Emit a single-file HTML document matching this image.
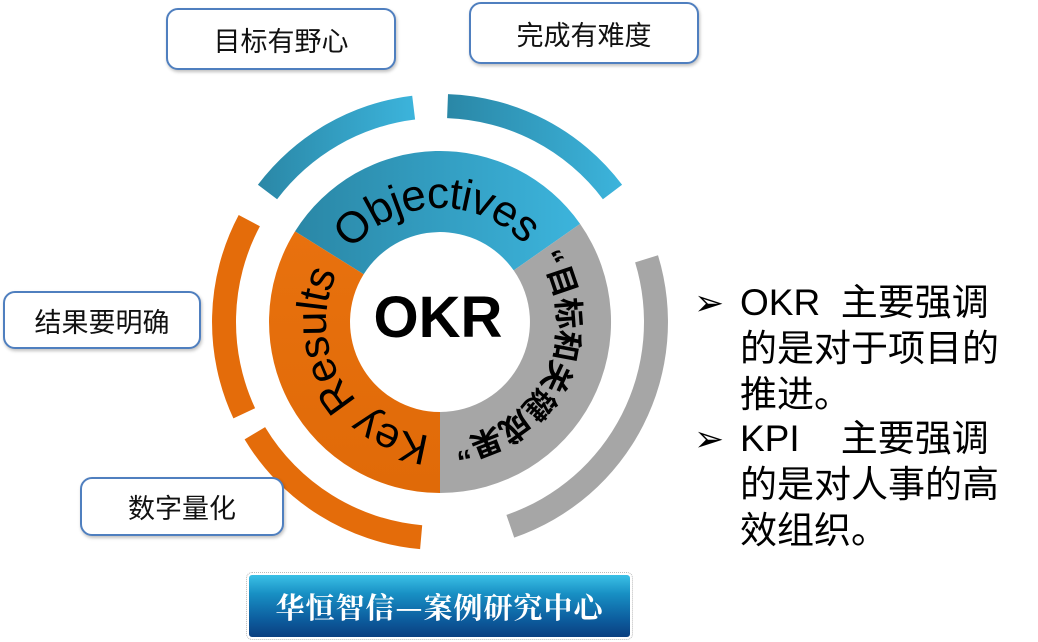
<!DOCTYPE html>
<html><head><meta charset="utf-8">
<style>
html,body{margin:0;padding:0;background:#fff;}
body{width:1038px;height:642px;position:relative;overflow:hidden;font-family:"Liberation Sans","Noto Sans CJK SC",sans-serif;}
.box{position:absolute;border:2.5px solid #4f7fbf;border-radius:12px;background:#fff;box-sizing:border-box;display:flex;align-items:center;justify-content:center;font-size:27px;color:#111;box-shadow:1px 2px 3px rgba(0,0,0,0.25);}
.rt{position:absolute;left:740px;font-size:37px;line-height:46px;color:#000;white-space:nowrap;}
.ar{position:absolute;left:694px;font-size:36px;line-height:46px;}
.banner{position:absolute;left:249px;top:575px;width:381px;height:62px;border-radius:3px;background:linear-gradient(#3bc0e6 0%,#1890c4 30%,#0d5fa0 70%,#0a3f80 100%);color:#fff;font-family:"Noto Serif CJK SC","Liberation Serif",serif;font-weight:bold;font-size:29px;display:flex;align-items:center;justify-content:center;letter-spacing:1px;outline:1px dotted #bbb;outline-offset:2px;}
</style></head><body>
<svg id="s" width="1038" height="642" style="position:absolute;left:0;top:0">
<defs>
<linearGradient id="gb" x1="0" y1="0" x2="1" y2="0"><stop offset="0" stop-color="#2a87a6"/><stop offset="1" stop-color="#3cb4dc"/></linearGradient>
<linearGradient id="go" x1="0" y1="0" x2="0" y2="1"><stop offset="0" stop-color="#e8710e"/><stop offset="1" stop-color="#e06a08"/></linearGradient>
</defs>
<g id="g"></g>
<path id="pObj" fill="none" d=""/>
<path id="pKR" fill="none" d=""/>
<path id="pCN" fill="none" d=""/>
<text font-family="Liberation Sans, sans-serif" font-size="44" letter-spacing="-1" fill="#000"><textPath href="#pObj" startOffset="50%" text-anchor="middle">Objectives</textPath></text>
<text font-family="Liberation Sans, sans-serif" font-size="43" letter-spacing="-1" fill="#000"><textPath href="#pKR" startOffset="50%" text-anchor="middle">Key Results</textPath></text>
<text font-family="Liberation Sans, Noto Sans CJK SC, sans-serif" font-size="31" font-weight="bold" letter-spacing="-1" fill="#000"><textPath href="#pCN" startOffset="50%" text-anchor="middle">“目标和关键成果”</textPath></text>
<text x="438" y="337" font-family="Liberation Sans, sans-serif" font-size="58" font-weight="bold" text-anchor="middle" fill="#000">OKR</text>
</svg>
<script>
(function(){
var cx=440,cy=322;
function P(r,a){a=a*Math.PI/180;return (cx+r*Math.cos(a)).toFixed(1)+" "+(cy+r*Math.sin(a)).toFixed(1);}
function seg(r1,r2,a1,a2){var l=(a2-a1)>180?1:0;return "M"+P(r2,a1)+" A"+r2+" "+r2+" 0 "+l+" 1 "+P(r2,a2)+" L"+P(r1,a2)+" A"+r1+" "+r1+" 0 "+l+" 0 "+P(r1,a1)+" Z";}
function arc(r,a1,a2){var l=(a2-a1)>180?1:0;return "M"+P(r,a1)+" A"+r+" "+r+" 0 "+l+" 1 "+P(r,a2);}
var g=document.getElementById("g");var ns="http://www.w3.org/2000/svg";
function add(d,f){var p=document.createElementNS(ns,"path");p.setAttribute("d",d);p.setAttribute("fill",f);g.appendChild(p);}
add(seg(90,171,-148,-35),"url(#gb)");
add(seg(90,171,-35,90),"#a6a6a6");
add(seg(90,171,90,212),"url(#go)");
add(seg(204,228,-143,-97),"url(#gb)");
add(seg(204,228,-88,-37),"url(#gb)");
add(seg(204,228,-17,71),"#a6a6a6");
add(seg(204,228,155,208),"#e46c0a");
add(seg(204,228,95,149),"#e46c0a");
document.getElementById("pObj").setAttribute("d",arc(114,-175,-9));
document.getElementById("pKR").setAttribute("d",arc(114,68,232));
document.getElementById("pCN").setAttribute("d",arc(118,-62,112));
})();
</script>
<div class="box" style="left:166px;top:8px;width:230px;height:62px;">目标有野心</div>
<div class="box" style="left:469px;top:2px;width:230px;height:62px;">完成有难度</div>
<div class="box" style="left:3px;top:291px;width:198px;height:58px;">结果要明确</div>
<div class="box" style="left:80px;top:477px;width:204px;height:59px;">数字量化</div>
<div class="ar" style="top:280px;">➢</div>
<div class="rt" style="top:280px;">OKR&nbsp; 主要强调</div>
<div class="rt" style="top:326px;">的是对于项目的</div>
<div class="rt" style="top:372px;">推进。</div>
<div class="ar" style="top:416px;">➢</div>
<div class="rt" style="top:416px;">KPI&nbsp;&nbsp;&nbsp; 主要强调</div>
<div class="rt" style="top:462px;">的是对人事的高</div>
<div class="rt" style="top:508px;">效组织。</div>
<div class="banner">华恒智信—案例研究中心</div>
</body></html>
